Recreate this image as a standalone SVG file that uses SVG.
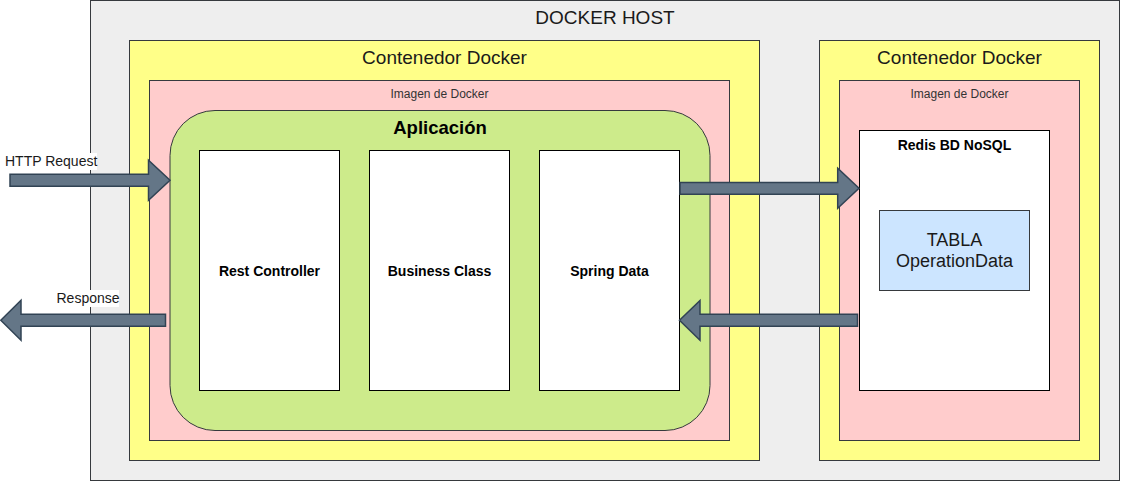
<svg xmlns="http://www.w3.org/2000/svg" width="1121" height="482" viewBox="0 0 1121 482">
<style>
text{font-family:"Liberation Sans",Arial,sans-serif;text-anchor:middle}
.box{stroke:#36393d;stroke-width:1}
.host{fill:#eeeeee}
.cont{fill:#ffff88}
.img{fill:#ffcccc}
.app{fill:#cdeb8b}
.white{fill:#ffffff;stroke:#000000;stroke-width:1}
.tbl{fill:#cce5ff}
.t19{font-size:19px;fill:#1a1a1a}
.t12{font-size:12px;fill:#333333}
.b14{font-size:14px;font-weight:bold;fill:#000000}
.t18{font-size:18px;fill:#1a1a1a}
.lbl{font-size:14px;fill:#1a1a1a;text-anchor:start}
.arrow{fill:#647687;stroke:#314354;stroke-width:1.5;stroke-linejoin:miter}
</style>
<rect width="1121" height="482" fill="#ffffff"/>
<g id="docker-host">
<rect class="box host" x="90.5" y="0.5" width="1029" height="480"/>
<text class="t19" x="605" y="24">DOCKER HOST</text>
</g>
<g id="contenedor-1">
<rect class="box cont" x="129.5" y="40.5" width="630" height="420"/>
<text class="t19" x="444.5" y="64">Contenedor Docker</text>
</g>
<g id="imagen-1">
<rect class="box img" x="149.5" y="80.5" width="580" height="360"/>
<text class="t12" x="439.5" y="98">Imagen de Docker</text>
</g>
<g id="aplicacion">
<rect class="box app" x="170" y="110.5" width="540" height="320" rx="45" ry="45"/>
<text class="b14" x="440" y="134" style="font-size:18.5px">Aplicación</text>
</g>
<g id="rest-controller">
<rect class="white" x="199.5" y="150.5" width="140" height="240"/>
<text class="b14" x="269.5" y="276">Rest Controller</text>
</g>
<g id="business-class">
<rect class="white" x="369.5" y="150.5" width="140" height="240"/>
<text class="b14" x="439.5" y="276">Business Class</text>
</g>
<g id="spring-data">
<rect class="white" x="539.5" y="150.5" width="140" height="240"/>
<text class="b14" x="609.5" y="276">Spring Data</text>
</g>
<g id="contenedor-2">
<rect class="box cont" x="819.5" y="40.5" width="280" height="420"/>
<text class="t19" x="959.5" y="64">Contenedor Docker</text>
</g>
<g id="imagen-2">
<rect class="box img" x="839.5" y="80.5" width="240" height="360"/>
<text class="t12" x="959.5" y="98">Imagen de Docker</text>
</g>
<g id="redis">
<rect class="white" x="859.5" y="130.5" width="190" height="260"/>
<text class="b14" x="954.5" y="150">Redis BD NoSQL</text>
</g>
<g id="tabla">
<rect class="box tbl" x="879.5" y="210.5" width="150" height="80"/>
<text class="t18" x="954.5" y="246">TABLA</text>
<text class="t18" x="954.5" y="267">OperationData</text>
</g>
<g id="connectors">
<path class="arrow" d="M10,174.3 H148.5 V160.3 L170,180.3 L148.5,200.3 V186.3 H10 Z"/>
<path class="arrow" d="M165.5,314.3 H21 V300.3 L0.8,320.3 L21,340.3 V326.3 H165.5 Z"/>
<path class="arrow" d="M680,182.5 H837.7 V168.3 L859,188.3 L837.7,208.3 V194.3 H680 Z"/>
<path class="arrow" d="M857.5,314.3 H700 V300.5 L679.5,320.3 L700,340.3 V326.3 H857.5 Z"/>
<rect x="3" y="153" width="94" height="17" fill="#ffffff"/>
<text class="lbl" x="5" y="166">HTTP Request</text>
<rect x="54" y="290" width="65" height="17" fill="#ffffff"/>
<text class="lbl" x="56.5" y="303">Response</text>
</g>
</svg>
